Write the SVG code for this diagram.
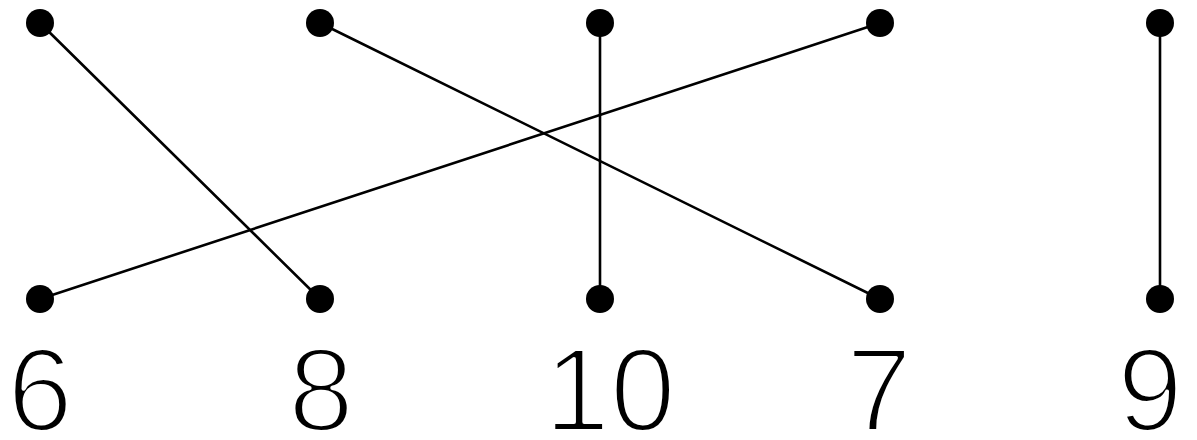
<svg xmlns="http://www.w3.org/2000/svg" width="1197" height="440" viewBox="0 0 1197 440">
<style>
.dot{fill:#000}
.edge{stroke:#000;stroke-width:2.6;fill:none;stroke-linecap:round}
.lbl{font-family:"Liberation Sans",Arial,sans-serif;font-size:118px;fill:#000;text-anchor:middle;stroke:#fff;stroke-width:4;stroke-linejoin:round}
</style>
<rect width="1197" height="440" fill="#fff"/>
<g id="connectors">
<line class="edge" x1="40" y1="23" x2="320" y2="299"/>
<line class="edge" x1="320" y1="23" x2="880" y2="299"/>
<line class="edge" x1="600" y1="23" x2="600" y2="299"/>
<line class="edge" x1="880" y1="23" x2="40" y2="299"/>
<line class="edge" x1="1160" y1="23" x2="1160" y2="299"/>
</g>
<g id="top1"><circle class="dot" cx="40" cy="23" r="14"/></g>
<g id="top2"><circle class="dot" cx="320" cy="23" r="14"/></g>
<g id="top3"><circle class="dot" cx="600" cy="23" r="14"/></g>
<g id="top4"><circle class="dot" cx="880" cy="23" r="14"/></g>
<g id="top5"><circle class="dot" cx="1160" cy="23" r="14"/></g>
<g id="bottom6"><circle class="dot" cx="40" cy="299" r="14"/><text class="lbl" x="40" y="431">6</text></g>
<g id="bottom8"><circle class="dot" cx="320" cy="299" r="14"/><text class="lbl" x="321" y="431">8</text></g>
<g id="bottom10"><circle class="dot" cx="600" cy="299" r="14"/><text class="lbl" x="610" y="431">10</text></g>
<g id="bottom7"><circle class="dot" cx="880" cy="299" r="14"/><text class="lbl" x="879" y="431">7</text></g>
<g id="bottom9"><circle class="dot" cx="1160" cy="299" r="14"/><text class="lbl" x="1150" y="431">9</text></g>
</svg>
